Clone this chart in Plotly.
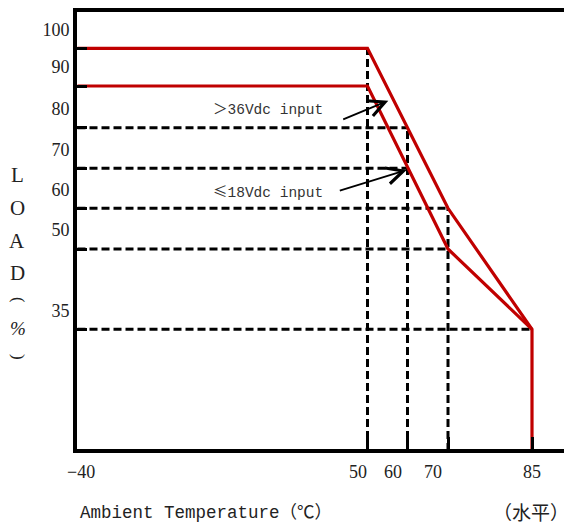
import numpy as np
import plotly.graph_objects as go

# ---------------- data ----------------
TEMP_TICKS = [-40, 50, 60, 70, 85]
TEMP_TICK_LABELS = ["−40", "50", "60", "70", "85"]
LOAD_TICKS = [100, 90, 80, 70, 60, 50, 35]
LOAD_TICK_LABELS = ["100", "90", "80", "70", "60", "50", "35"]

HIGH_INPUT_TEMP = [-40, 50, 70, 85, 85]     # >36Vdc input
HIGH_INPUT_LOAD = [100, 100, 60, 35, 0]
LOW_INPUT_TEMP = [-40, 50, 70, 85]          # <=18Vdc input
LOW_INPUT_LOAD = [90, 90, 50, 35]

GUIDE_H_LOAD = [80, 70, 60, 50, 35]         # dashed horizontal guides (load, to temp)
GUIDE_H_TEMP = [60, 60, 70, 70, 85]
GUIDE_V_TEMP = [50, 60, 70]                 # dashed vertical guides (temp, to load)
GUIDE_V_LOAD = [100, 80, 60]

TEMP_MIN, LOAD_MIN = -40, 0

# ---------------- schematic (non-uniform) axis scales as drawn ----------------
X_SCALE_VAL = [-40, 50, 60, 70, 85]
X_SCALE_POS = [2.5, 292.5, 332.5, 373, 457]
Y_SCALE_VAL = [0, 35, 50, 60, 70, 80, 90, 100]
Y_SCALE_POS = [0, 121.7, 202, 242.7, 282.7, 323.3, 365, 402.7]


def sx(v):
    return np.interp(v, X_SCALE_VAL, X_SCALE_POS)


def sy(v):
    return np.interp(v, Y_SCALE_VAL, Y_SCALE_POS)


# figure geometry (page has an 8px body margin)
OFF = 8
W, H = 564, 518
ML, MR, MT, MB = 69, 4, 4, 77
PW, PH = W - ML - MR, H - MT - MB


def px(x):   # page pixel -> paper x
    return (x - OFF - ML) / PW


def py(y):   # page pixel -> paper y
    return (H - MB - (y - OFF)) / PH


RED = "#C00000"
INK = "#222"
fig = go.Figure()

# dashed guides
gx, gy = [], []
for ld, t in zip(GUIDE_H_LOAD, GUIDE_H_TEMP):
    gx += [sx(TEMP_MIN), sx(t), None]
    gy += [sy(ld), sy(ld), None]
for t, ld in zip(GUIDE_V_TEMP, GUIDE_V_LOAD):
    gx += [sx(t), sx(t), None]
    gy += [sy(LOAD_MIN), sy(ld), None]
fig.add_trace(go.Scatter(x=gx, y=gy, mode="lines", hoverinfo="skip",
                         line=dict(color="black", width=3, dash="8px,4px"),
                         showlegend=False))

for name, tx, ly in [(">36Vdc input", HIGH_INPUT_TEMP, HIGH_INPUT_LOAD),
                     ("≤18Vdc input", LOW_INPUT_TEMP, LOW_INPUT_LOAD)]:
    fig.add_trace(go.Scatter(
        x=sx(tx), y=sy(ly), mode="lines", name=name,
        customdata=np.column_stack([tx, ly]),
        hovertemplate="%{customdata[0]} °C, %{customdata[1]} %<extra>" + name + "</extra>",
        line=dict(color=RED, width=3.2), showlegend=False))

fig.update_xaxes(
    range=[2, 2 + PW], tickmode="array", tickvals=sx(TEMP_TICKS), showticklabels=False,
    showgrid=False, zeroline=False, showline=True, linewidth=4, linecolor="black",
    mirror=True, ticks="inside", ticklen=12, tickwidth=3, tickcolor="black",
    automargin=False)
fig.update_yaxes(
    range=[2, 2 + PH], tickmode="array", tickvals=sy(LOAD_TICKS), ticktext=LOAD_TICK_LABELS,
    showgrid=False, zeroline=False, showline=True, linewidth=4, linecolor="black",
    mirror=True, ticks="inside", ticklen=10, tickwidth=3, tickcolor="black",
    tickfont=dict(family="Liberation Serif", size=18, color=INK),
    automargin=False, ticklabelshift=-19, ticklabelstandoff=0)

ann = []
# x tick labels (sit slightly left of their ticks in the drawing)
label_shift = [3, -9.5, -14.5, -15, 0]
for t, lab, sh in zip(TEMP_TICKS, TEMP_TICK_LABELS, label_shift):
    ann.append(dict(text=lab, x=sx(t), xref="x", y=py(472), yref="paper", xshift=sh,
                    xanchor="center", yanchor="middle", showarrow=False,
                    font=dict(family="Liberation Serif", size=18, color=INK)))

MONO = "Liberation Mono, Noto Sans CJK SC"
CJK = "Noto Sans CJK SC"
ann.append(dict(text="＞36Vdc input", x=px(211), y=py(110), xref="paper", yref="paper",
                xanchor="left", yanchor="middle", showarrow=False,
                font=dict(family=MONO, size=14.5, color="#333")))
ann.append(dict(text="<span style='font-family:Noto Sans CJK SC'>≤</span>18Vdc input",
                x=px(211), y=py(190), xref="paper", yref="paper",
                xanchor="left", yanchor="middle", showarrow=False,
                font=dict(family=MONO, size=14.5, color="#333")))
# arrows (tip, tail) in page pixels
for tip, tail in [((388.3, 100.7), (341.7, 120)), ((406.7, 170), (338.3, 191))]:
    ann.append(dict(text="", x=px(tip[0]), y=py(tip[1]), xref="paper", yref="paper",
                    ax=tail[0] - tip[0], ay=tail[1] - tip[1], showarrow=True,
                    arrowhead=5, arrowsize=1.8, arrowwidth=1.8, arrowcolor="black",
                    standoff=0))
ann.append(dict(text="Ambient Temperature（℃）", x=px(78), y=py(513), xref="paper", yref="paper",
                xanchor="left", yanchor="middle", showarrow=False,
                font=dict(family=MONO, size=17.5, color=INK)))
ann.append(dict(text="（水平）", x=px(571), y=py(511), xref="paper", yref="paper",
                xanchor="right", yanchor="middle", showarrow=False,
                font=dict(family=CJK, size=19, color=INK)))
# vertical y-axis title: letters, then rotated brackets around "%"
for ch, yc in zip(["L", "O", "A", "D"], [175.5, 208, 241, 273]):
    ann.append(dict(text=ch, x=px(17), y=py(yc), xref="paper", yref="paper",
                    xanchor="center", yanchor="middle", showarrow=False,
                    font=dict(family="Liberation Serif", size=21, color=INK)))
for ch, yc in [("(", 300), (")", 357)]:
    ann.append(dict(text=ch, x=px(19), y=py(yc), xref="paper", yref="paper",
                    xanchor="center", yanchor="middle", showarrow=False, textangle=90,
                    font=dict(family="Liberation Serif", size=17, color=INK)))
ann.append(dict(text="<i>%</i>", x=px(18), y=py(328), xref="paper", yref="paper",
                xanchor="center", yanchor="middle", showarrow=False,
                font=dict(family="Liberation Serif", size=19, color=INK)))

fig.update_layout(width=W, height=H, margin=dict(l=ML, r=MR, t=MT, b=MB),
                  plot_bgcolor="white", paper_bgcolor="white", annotations=ann,
                  showlegend=False)
fig.write_html("out.html")
